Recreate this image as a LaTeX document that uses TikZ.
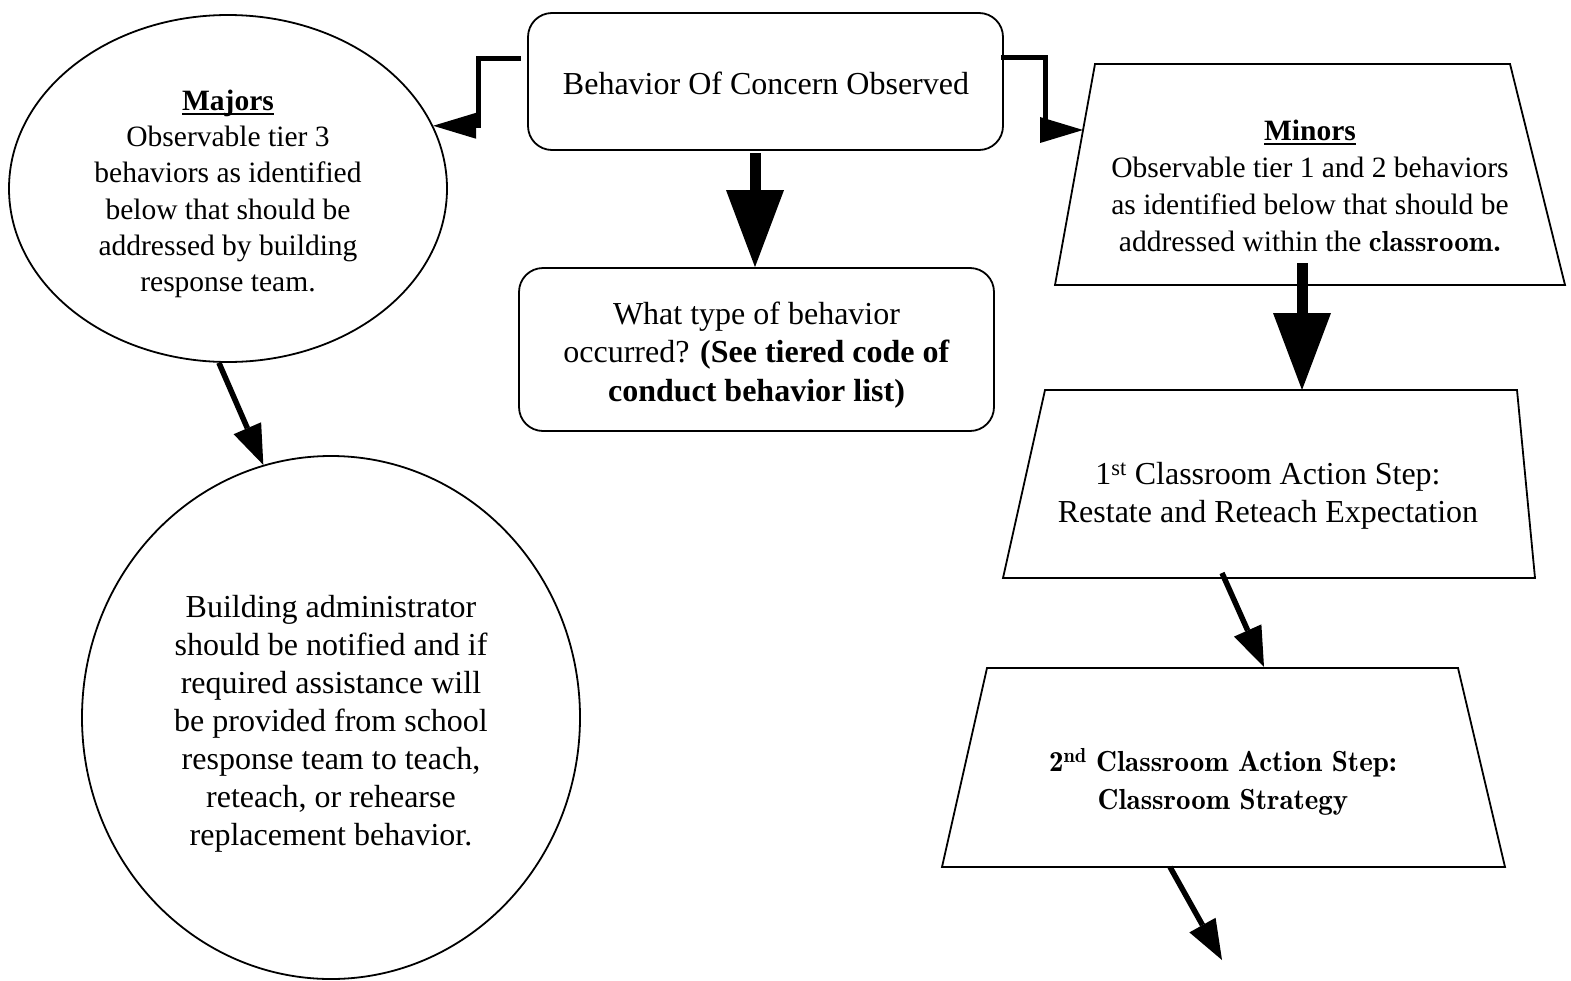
\documentclass[tikz,border=0pt]{standalone}
\usepackage{fontspec}
\setmainfont{Liberation Serif}
\newfontfamily\lmfont{lmroman10-regular.otf}
\newfontfamily\lmdemi{lmromandemi10-regular.otf}
\usetikzlibrary{arrows.meta,calc,shapes.geometric}
\newcommand\myul[1]{\setbox0\hbox{#1}\rlap{\rule[-4.5pt]{\wd0}{1.8pt}}\box0}
\begin{document}
\begin{tikzpicture}[x=1pt,y=-1pt,
  shapeline/.style={draw=black, line width=1.8pt},
  bigtxt/.style={align=center, font=\fontsize{32}{38}\selectfont},
  smalltxt/.style={align=center, font=\fontsize{29.5}{36.3}\selectfont},
  roundbox/.style={shapeline, rounded corners=24pt, bigtxt},
  ellbox/.style={shapeline, ellipse, inner sep=0pt},
  plaintxt/.style={inner sep=0pt},
  blockarrow/.style={line width=11pt, -{Triangle[length=77pt,width=58pt,line width=0pt]}},
  elbow/.style={line width=5pt, line join=miter, -{Triangle[length=43pt,width=26pt,line width=0pt]}},
  thinarrow/.style={line width=5.5pt, -{Triangle[length=40pt,width=30pt,line width=0pt]}}
]
\fill[white] (0,0) rectangle (1571,980);
\useasboundingbox (0,0) rectangle (1571,980);

% rounded boxes
\node[roundbox, minimum width=475pt, minimum height=137pt] (top) at (765.5,81.5) {};
\node[plaintxt, bigtxt] (toptxt) at (766,83) {Behavior Of Concern Observed};
\node[roundbox, minimum width=475pt, minimum height=163pt] (what) at (756.5,349.5) {};
\node[plaintxt, align=center, font=\fontsize{32}{38.5}\selectfont] (whattxt) at (756.5,355)
  {What type of behavior\\occurred? \textbf{(See tiered code of}\\\textbf{conduct behavior list)}};

% ellipses
\node[ellbox, minimum width=438pt, minimum height=347pt] (majors) at (228,188.5) {};
\node[plaintxt, smalltxt] (majorstxt) at (228,194)
  {\myul{\textbf{Majors}}\\Observable tier 3\\behaviors as identified\\below that should be\\addressed by building\\response team.};
\node[ellbox, minimum width=498pt, minimum height=523pt] (admin) at (331,717.5) {};
\node[plaintxt, bigtxt] (admintxt) at (331,724)
  {Building administrator\\should be notified and if\\required assistance will\\be provided from school\\response team to teach,\\reteach, or rehearse\\replacement behavior.};

% trapezoids
\coordinate (mtl) at (1095,64);  \coordinate (mtr) at (1510,64);
\coordinate (mbr) at (1565,285); \coordinate (mbl) at (1055,285);
\draw[shapeline] (mtl) -- (mtr) -- (mbr) -- (mbl) -- cycle;
\node[plaintxt, align=center, font=\fontsize{29.5}{37}\selectfont] (minors) at (1310,186)
  {\myul{\textbf{Minors}}\\Observable tier 1 and 2 behaviors\\as identified below that should be\\addressed within the {\lmdemi\fontsize{29}{37}\selectfont classroom.}};

\coordinate (s1tl) at (1045,390); \coordinate (s1tr) at (1517,390);
\coordinate (s1br) at (1535,578); \coordinate (s1bl) at (1003,578);
\draw[shapeline] (s1tl) -- (s1tr) -- (s1br) -- (s1bl) -- cycle;
\node[plaintxt, bigtxt] (step1) at (1268,496)
  {1\textsuperscript{st} Classroom Action Step:\\Restate and Reteach Expectation};

\coordinate (s2tl) at (987,668); \coordinate (s2tr) at (1458,668);
\coordinate (s2br) at (1505,867); \coordinate (s2bl) at (942,867);
\draw[shapeline] (s2tl) -- (s2tr) -- (s2br) -- (s2bl) -- cycle;
\node[plaintxt, align=center, font=\lmdemi\fontsize{29}{38}\selectfont] (step2) at (1223,782)
  {2\textsuperscript{nd} Classroom Action Step:\\Classroom Strategy};

% connector end points
\coordinate (minL) at ($(mtl)!0.2986!(mbl)$);
\coordinate (minB) at (1302,263);
\coordinate (s1T) at (1302,390);
\coordinate (s1out) at (1222,573);
\coordinate (s2in) at (1264,667);
\coordinate (s2out) at (1170,867);
\coordinate (freeend) at (1222,960);

% connectors
\draw[elbow] ($(top.west)+(-6,-23.5)$) -- ++(-43,0) |- (majors.17);
\draw[elbow] ($(top.east)+(-3,-24.5)$) -- ++(45,0) |- (minL);
\draw[blockarrow] ($(top.south)+(-10.5,2)$) -- ($(what.north)+(-1.5,0)$);
\draw[blockarrow] (minB) -- (s1T);
\draw[thinarrow] (majors.-93) -- (admin.105);
\draw[thinarrow] (s1out) -- (s2in);
\draw[thinarrow] (s2out) -- (freeend);
\end{tikzpicture}
\end{document}
